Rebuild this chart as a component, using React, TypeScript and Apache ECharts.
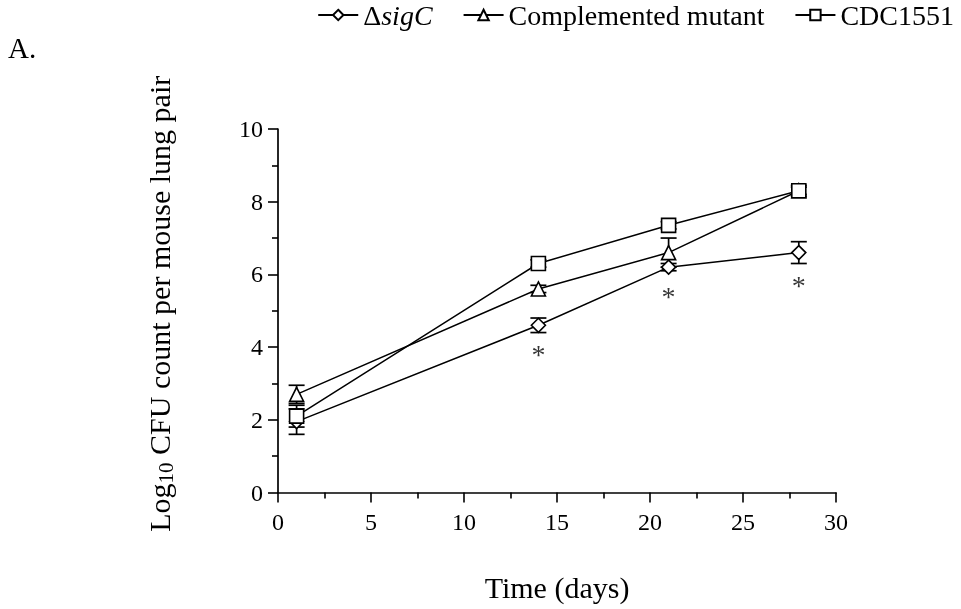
import React, { useEffect, useRef } from "react";
import * as echarts from "echarts";

const days = [1, 14, 21, 28];
const sigC = [1.95, 4.6, 6.2, 6.6];
const sigCErr = [0.35, 0.2, 0.1, 0.3];
const comp = [2.7, 5.6, 6.6, 8.3];
const compErr = [0.25, 0.1, 0.4, 0.15];
const cdc = [2.1, 6.3, 7.35, 8.3];
const cdcErr = [0.3, 0.1, 0.1, 0.1];
const starDays = [14, 21, 28];
const starY = [3.85, 5.45, 5.75];
const seriesNames = ["ΔsigC", "Complemented mutant", "CDC1551"];

const FONT = "'Liberation Serif', 'DejaVu Serif', serif";

export default function App() {
  const ref = useRef<HTMLDivElement>(null);
  useEffect(() => {
    if (!ref.current) return;
    const chart = echarts.init(ref.current, null, { renderer: "svg" });

    const pts = (ys: number[]) => days.map((d, i) => [d, ys[i]]);
    const errPts = (ys: number[], es: number[]) => days.map((d, i) => [d, ys[i], es[i]]);

    const errSeries = (name: string, ys: number[], es: number[]) => ({
      type: "custom",
      name: name + "-err",
      z: 1,
      silent: true,
      data: errPts(ys, es),
      renderItem: (params: any, api: any) => {
        const x = api.value(0);
        const y = api.value(1);
        const e = api.value(2);
        const top = api.coord([x, y + e]);
        const bot = api.coord([x, y - e]);
        const hw = 8;
        const st = { stroke: "#000", lineWidth: 1.7 };
        return {
          type: "group",
          children: [
            { type: "line", shape: { x1: top[0], y1: top[1], x2: bot[0], y2: bot[1] }, style: st },
            { type: "line", shape: { x1: top[0] - hw, y1: top[1], x2: top[0] + hw, y2: top[1] }, style: st },
            { type: "line", shape: { x1: bot[0] - hw, y1: bot[1], x2: bot[0] + hw, y2: bot[1] }, style: st },
          ],
        };
      },
    });

    const lineSeries = (name: string, ys: number[], symbol: string) => ({
      type: "line",
      name,
      z: 3,
      data: pts(ys),
      symbol,
      symbolSize: 14,
      showAllSymbol: true,
      lineStyle: { color: "#000", width: 1.5 },
      itemStyle: { color: "#fff", borderColor: "#000", borderWidth: 1.6 },
    });

    chart.setOption({
      animation: false,
      textStyle: { fontFamily: FONT, color: "#000" },
      legend: {
        data: seriesNames,
        right: 2,
        top: -4,
        itemWidth: 40,
        itemHeight: 13,
        itemGap: 30,
        textStyle: {
          fontFamily: FONT,
          fontSize: 28,
          color: "#000",
          rich: {
            i: { fontFamily: FONT, fontSize: 28, fontStyle: "italic", color: "#000" },
          },
        },
        formatter: (n: string) => (n === "ΔsigC" ? "Δ{i|sigC}" : n),
      },
      grid: { left: 278, right: 125, top: 129, bottom: 116.5 },
      xAxis: {
        type: "value",
        min: 0,
        max: 30,
        interval: 5,
        name: "Time (days)",
        nameLocation: "middle",
        nameGap: 80,
        nameTextStyle: { fontFamily: FONT, fontSize: 30, color: "#000" },
        axisLine: { show: true, lineStyle: { color: "#000", width: 1.7 } },
        axisTick: { show: true, length: 10, lineStyle: { color: "#000", width: 1.6 } },
        minorTick: { show: true, splitNumber: 2, length: 6, lineStyle: { color: "#000", width: 1.6 } },
        splitLine: { show: false },
        axisLabel: { fontFamily: FONT, fontSize: 24, color: "#000", margin: 17 },
      },
      yAxis: {
        type: "value",
        min: 0,
        max: 10,
        interval: 2,
        name: "Log{sub|10} CFU count per mouse lung pair",
        nameLocation: "middle",
        nameGap: 102,
        nameTextStyle: {
          fontFamily: FONT,
          fontSize: 30,
          color: "#000",
          padding: [0, 0, 0, 14],
          rich: {
            sub: { fontFamily: FONT, fontSize: 21, color: "#000", padding: [12, 0, 0, 0] },
          },
        },
        axisLine: { show: true, lineStyle: { color: "#000", width: 1.7 } },
        axisTick: { show: true, length: 10, lineStyle: { color: "#000", width: 1.6 } },
        minorTick: { show: true, splitNumber: 2, length: 6, lineStyle: { color: "#000", width: 1.6 } },
        splitLine: { show: false },
        axisLabel: { fontFamily: FONT, fontSize: 24, color: "#000", margin: 15 },
      },
      graphic: [
        { type: "text", left: 8, top: 33, style: { text: "A.", font: "29px 'Liberation Serif'", fill: "#000" } },
      ],
      series: [
        errSeries("ΔsigC", sigC, sigCErr),
        errSeries("Complemented mutant", comp, compErr),
        errSeries("CDC1551", cdc, cdcErr),
        lineSeries("ΔsigC", sigC, "diamond"),
        lineSeries("Complemented mutant", comp, "triangle"),
        lineSeries("CDC1551", cdc, "rect"),
        {
          type: "scatter",
          name: "sig",
          z: 4,
          data: starDays.map((d, i) => [d, starY[i]]),
          symbol: "circle",
          symbolSize: 4,
          itemStyle: { color: "rgba(0,0,0,0)" },
          label: {
            show: true,
            position: "inside",
            formatter: "*",
            fontFamily: FONT,
            fontSize: 28,
            color: "#000",
            offset: [0, 2],
          },
          silent: true,
        },
      ],
    });
    return () => chart.dispose();
  }, []);
  return <div ref={ref} style={{ position: "fixed", left: 0, top: 0, width: 961, height: 609 }} />;
}
